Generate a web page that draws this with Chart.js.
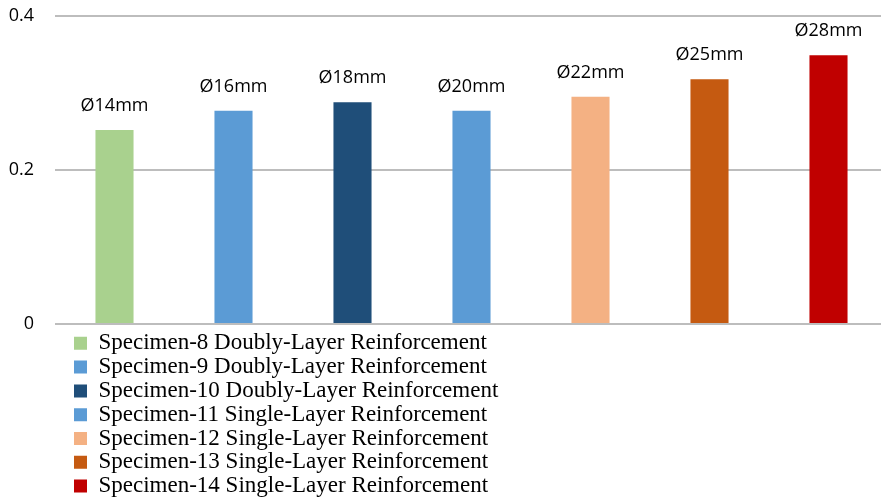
<!DOCTYPE html>
<html>
<head>
<meta charset="utf-8">
<script src="https://cdn.jsdelivr.net/npm/chart.js@4/dist/chart.umd.min.js"></script>
<style>
html,body{margin:0;padding:0;overflow:hidden;background:#ffffff;}
#wrap{width:888px;height:499px;position:relative;}
</style>
</head>
<body>
<div id="wrap"><canvas id="c"></canvas></div>
<script>
const categories = [
  'Specimen-8 Doubly-Layer Reinforcement',
  'Specimen-9 Doubly-Layer Reinforcement',
  'Specimen-10 Doubly-Layer Reinforcement',
  'Specimen-11 Single-Layer Reinforcement',
  'Specimen-12 Single-Layer Reinforcement',
  'Specimen-13 Single-Layer Reinforcement',
  'Specimen-14 Single-Layer Reinforcement'
];
const values = [0.252, 0.277, 0.288, 0.277, 0.295, 0.318, 0.349];
const barLabels = ['Ø14mm', 'Ø16mm', 'Ø18mm', 'Ø20mm', 'Ø22mm', 'Ø25mm', 'Ø28mm'];
const barColors = ['#A9D18E', '#5B9BD5', '#1F4E79', '#5B9BD5', '#F4B183', '#C55A11', '#C00000'];
const yTicks = [0, 0.2, 0.4];

const barLabelPlugin = {
  id: 'barLabels',
  afterDatasetsDraw(chart) {
    const ctx = chart.ctx;
    const meta = chart.getDatasetMeta(0);
    ctx.save();
    ctx.font = '18px "Open Sans", sans-serif';
    ctx.fillStyle = '#000000';
    ctx.textAlign = 'center';
    ctx.textBaseline = 'middle';
    meta.data.forEach((bar, i) => {
      ctx.fillText(barLabels[i], bar.x, bar.y - 24);
    });
    ctx.restore();
  }
};

const legendShift = {
  id: 'legendShift',
  afterLayout(chart) {
    const lg = chart.legend;
    const dx = 74 - (lg.left + lg.options.labels.padding);
    const dy = 7;
    lg.left += dx; lg.right += dx;
    lg.top += dy; lg.bottom += dy;
  }
};

new Chart(document.getElementById('c'), {
  type: 'bar',
  data: {
    labels: categories,
    datasets: [{
      label: 'Value',
      data: values,
      backgroundColor: barColors,
      borderWidth: 0,
      barPercentage: 0.32,
      categoryPercentage: 1.0
    }]
  },
  options: {
    responsive: true,
    maintainAspectRatio: false,
    animation: false,
    layout: { padding: { top: 16, left: 8, right: 0, bottom: 0 } },
    scales: {
      x: { display: false },
      y: {
        min: 0,
        max: 0.4,
        afterBuildTicks(scale) { scale.ticks = yTicks.map(v => ({ value: v })); },
        afterFit(scale) { scale.width = 47; scale.paddingTop = 0; scale.paddingBottom = 0; },
        border: { display: false },
        grid: { color: '#BDBDBD', lineWidth: 2, drawTicks: false },
        ticks: {
          padding: 21,
          color: '#000000',
          font: { family: '"Open Sans", sans-serif', size: 18 },
          callback: v => String(v)
        }
      }
    },
    plugins: {
      tooltip: { enabled: false },
      legend: {
        position: 'bottom',
        align: 'start',
        maxHeight: 175,
        labels: {
          boxWidth: 13,
          boxHeight: 13,
          padding: 0.8,
          color: '#000000',
          font: { family: '"Liberation Serif", serif', size: 23 },
          generateLabels: () => categories.map((c, i) => ({
            text: c + '            ',
            fillStyle: barColors[i],
            strokeStyle: barColors[i],
            lineWidth: 0,
            hidden: false,
            index: i
          }))
        }
      }
    }
  },
  plugins: [barLabelPlugin, legendShift]
});
</script>
</body>
</html>
